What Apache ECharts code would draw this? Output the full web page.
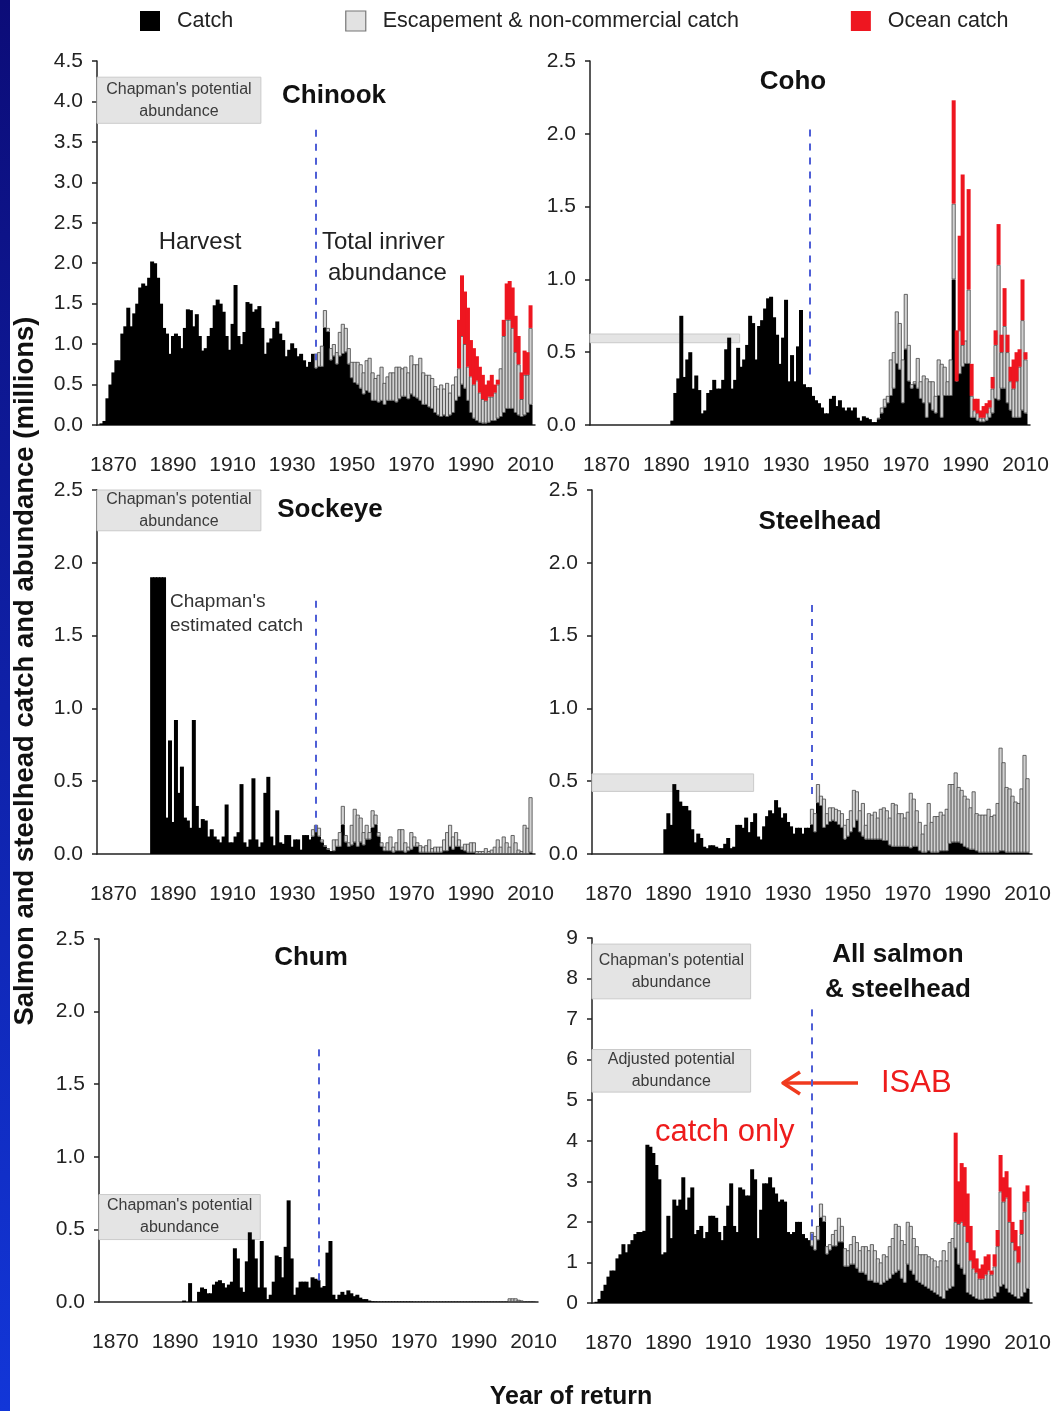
<!DOCTYPE html>
<html>
<head>
<meta charset="utf-8">
<title>Columbia River salmon and steelhead</title>
<script src="https://cdn.jsdelivr.net/npm/echarts@6/dist/echarts.min.js"></script>
<style>
  html, body { margin: 0; padding: 0; background: #fff; }
  #chart { width: 1057px; height: 1411px; }
</style>
</head>
<body>
<div id="chart"></div>
<script>
// x axis: one category per year of return
const firstYear = 1865, lastYear = 2011;
const years = [];
for (let y = firstYear; y <= lastYear; y++) years.push(String(y));
const tickYears = [1870, 1890, 1910, 1930, 1950, 1970, 1990, 2010];

// ---- Chinook (millions) ----
const chinookCatchStart = 1866;
const chinookCatch = [
  0.02, 0.05, 0.33, 0.5,
  0.65, 0.8, 0.8, 1.13, 1.22, 1.45, 1.22, 1.38, 1.5, 1.7,
  1.75, 1.72, 1.82, 2.02, 2.0, 1.82, 1.5, 1.2, 1.13, 0.88,
  1.1, 1.13, 1.1, 0.95, 1.2, 1.43, 1.42, 1.22, 1.37, 1.1,
  0.92, 0.95, 1.1, 1.2, 1.48, 1.55, 1.5, 1.4, 1.1, 0.93,
  1.25, 1.73, 1.1, 1.0, 1.15, 1.52, 1.5, 1.4, 1.43, 1.47,
  1.2, 0.88, 1.02, 1.07, 1.2, 1.28, 1.13, 1.05, 0.85, 0.93,
  1.01, 0.95, 0.85, 0.88, 0.8, 0.72, 0.78, 0.88, 0.7, 0.72,
  0.72, 1.2, 1.15, 0.8, 0.85, 0.75, 0.85, 0.88, 0.9, 0.75,
  0.58, 0.52, 0.5, 0.45, 0.38, 0.42, 0.4, 0.3, 0.3, 0.28,
  0.3, 0.25, 0.3, 0.3, 0.3, 0.28, 0.32, 0.35, 0.35, 0.32,
  0.38, 0.35, 0.33, 0.3, 0.25, 0.25, 0.22, 0.2, 0.15, 0.12,
  0.1, 0.12, 0.1, 0.12, 0.15, 0.3, 0.35, 0.5, 0.45, 0.3,
  0.15, 0.08, 0.05, 0.03, 0.02, 0.02, 0.03, 0.05, 0.05, 0.08,
  0.1, 0.15, 0.2, 0.2, 0.2, 0.15, 0.12, 0.1, 0.12, 0.15,
  0.25
];
// top of the escapement bar (catch + escapement)
const chinookTotalStart = 1938;
const chinookTotal = [
  0.88, 0.9,
  0.98, 1.42, 1.2, 0.95, 1.0, 0.9, 1.15, 1.25, 1.2, 0.95,
  0.78, 0.78, 0.78, 0.75, 0.65, 0.8, 0.83, 0.65, 0.58, 0.62,
  0.72, 0.52, 0.6, 0.65, 0.65, 0.72, 0.72, 0.7, 0.72, 0.65,
  0.86, 0.75, 0.75, 0.83, 0.65, 0.62, 0.62, 0.58, 0.48, 0.45,
  0.5, 0.45, 0.52, 0.4, 0.5, 0.6, 0.7, 1.1, 1.0, 0.72,
  0.6, 0.5, 0.55, 0.4, 0.32, 0.3, 0.35, 0.35, 0.4, 0.5,
  0.7, 1.1, 1.3, 1.3, 1.2, 0.9, 0.75, 0.32, 0.62, 0.62,
  1.2
];
// top of the ocean catch bar
const chinookOceanStart = 1986;
const chinookOcean = [
  1.3, 1.85, 1.65, 1.45,
  1.05, 0.95, 0.85, 0.72, 0.62, 0.5, 0.55, 0.62, 0.5, 0.56,
  0.62, 1.3, 1.75, 1.78, 1.7, 1.35, 1.1, 0.65, 0.92, 0.9,
  1.48
];

// ---- Coho ----
const cohoCatchStart = 1892;
const cohoCatch = [
  0.03, 0.22, 0.32, 0.75, 0.33, 0.45, 0.5, 0.25,
  0.34, 0.24, 0.08, 0.1, 0.22, 0.24, 0.31, 0.25, 0.25, 0.31,
  0.52, 0.6, 0.25, 0.31, 0.53, 0.4, 0.45, 0.55, 0.75, 0.7,
  0.45, 0.68, 0.72, 0.8, 0.87, 0.88, 0.74, 0.62, 0.42, 0.6,
  0.86, 0.3, 0.48, 0.3, 0.54, 0.79, 0.28, 0.26, 0.26, 0.2,
  0.17, 0.15, 0.12, 0.08, 0.08, 0.18, 0.2, 0.13, 0.17, 0.12,
  0.1, 0.12, 0.1, 0.12, 0.05, 0.03, 0.06, 0.05, 0.04, 0.02,
  0.02, 0.04, 0.08, 0.12, 0.15, 0.2, 0.25, 0.42, 0.38, 0.15,
  0.52, 0.3, 0.25, 0.28, 0.25, 0.18, 0.15, 0.05, 0.15, 0.1,
  0.08, 0.2, 0.05, 0.2, 0.2, 0.2, 1.0, 0.3, 0.35, 0.4,
  0.42, 0.42, 0.05, 0.05, 0.03, 0.02, 0.02, 0.03, 0.05, 0.08,
  0.18, 0.17, 0.25, 0.25, 0.15, 0.1, 0.05, 0.05, 0.05, 0.1,
  0.08
];
const cohoTotalStart = 1961;
const cohoTotal = [
  0.05, 0.12, 0.18, 0.2, 0.45, 0.5, 0.78, 0.7, 0.45,
  0.9, 0.55, 0.28, 0.3, 0.46, 0.3, 0.34, 0.32, 0.3, 0.3,
  0.2, 0.45, 0.42, 0.4, 0.3, 0.45, 1.52, 0.3, 0.65, 0.55,
  0.58, 0.93, 0.2, 0.1, 0.08, 0.05, 0.05, 0.08, 0.12, 0.25,
  0.55, 1.1, 0.5, 0.68, 0.5, 0.3, 0.25, 0.3, 0.4, 0.72,
  0.45
];
const cohoOceanStart = 1986;
const cohoOcean = [
  2.23, 0.65, 1.3, 1.72,
  0.58, 1.62, 0.42, 0.18, 0.18, 0.1, 0.13, 0.15, 0.17, 0.33,
  0.65, 1.38, 0.62, 0.94, 0.62, 0.4, 0.45, 0.5, 0.52, 1.0,
  0.5
];

// ---- Sockeye ----
const sockeyeCatchStart = 1883;
const sockeyeCatch = [
  1.9, 1.9, 1.9, 1.9, 1.9, 0.25, 0.78,
  0.22, 0.92, 0.42, 0.6, 0.25, 0.23, 0.18, 0.92, 0.33, 0.18,
  0.24, 0.23, 0.12, 0.17, 0.12, 0.1, 0.08, 0.12, 0.34, 0.08,
  0.08, 0.12, 0.15, 0.48, 0.08, 0.05, 0.1, 0.52, 0.1, 0.05,
  0.08, 0.42, 0.53, 0.12, 0.06, 0.3, 0.08, 0.07, 0.13, 0.13,
  0.05, 0.1, 0.1, 0.03, 0.13, 0.13, 0.1, 0.12, 0.15, 0.12,
  0.08, 0.05, 0.03, 0.02, 0.02, 0.05, 0.05, 0.2, 0.08, 0.05,
  0.06, 0.08, 0.05, 0.08, 0.06, 0.1, 0.1, 0.18, 0.2, 0.12,
  0.05, 0.02, 0.02, 0.02, 0.01, 0.02, 0.02, 0.02, 0.01, 0.02,
  0.03, 0.05, 0.05, 0.01, 0.01, 0.01, 0.01, 0.01, 0.01, 0.01,
  0.01, 0.02, 0.02, 0.05, 0.03, 0.05, 0.05, 0.03, 0.02, 0.01,
  0.01, 0.01, 0, 0, 0, 0, 0, 0, 0, 0,
  0, 0, 0, 0, 0, 0, 0, 0, 0, 0,
  0.01
];
const sockeyeTotalStart = 1937;
const sockeyeTotal = [
  0.17, 0.2, 0.18,
  0.1, 0.06, 0.04, 0.02, 0.1, 0.1, 0.15, 0.33, 0.13, 0.08,
  0.2, 0.31, 0.27, 0.25, 0.15, 0.2, 0.15, 0.3, 0.27, 0.15,
  0.08, 0.05, 0.08, 0.12, 0.05, 0.08, 0.17, 0.17, 0.08, 0.05,
  0.15, 0.12, 0.08, 0.06, 0.05, 0.06, 0.1, 0.04, 0.05, 0.05,
  0.05, 0.1, 0.15, 0.2, 0.12, 0.15, 0.1, 0.05, 0.07, 0.07,
  0.08, 0.08, 0.02, 0.02, 0.02, 0.04, 0.02, 0.03, 0.05, 0.1,
  0.05, 0.12, 0.08, 0.05, 0.13, 0.08, 0.03, 0.02, 0.2, 0.18,
  0.39
];

// ---- Steelhead ----
const steelheadCatchStart = 1889;
const steelheadCatch = [
  0.17,
  0.28, 0.2, 0.48, 0.44, 0.36, 0.33, 0.33, 0.3, 0.17, 0.08,
  0.14, 0.11, 0.05, 0.04, 0.06, 0.06, 0.05, 0.04, 0.04, 0.07,
  0.11, 0.04, 0.05, 0.2, 0.2, 0.18, 0.25, 0.15, 0.22, 0.28,
  0.12, 0.1, 0.19, 0.26, 0.3, 0.28, 0.37, 0.32, 0.25, 0.28,
  0.22, 0.19, 0.14, 0.18, 0.18, 0.14, 0.18, 0.18, 0.2, 0.15,
  0.35, 0.33, 0.18, 0.2, 0.22, 0.23, 0.22, 0.2, 0.18, 0.1,
  0.12, 0.15, 0.18, 0.23, 0.15, 0.12, 0.1, 0.1, 0.1, 0.1,
  0.1, 0.1, 0.09, 0.09, 0.06, 0.05, 0.05, 0.05, 0.05, 0.05,
  0.05, 0.04, 0.05, 0.05, 0.02, 0.01, 0.01, 0.02, 0.01, 0.01,
  0.01, 0.02, 0.02, 0.02, 0.07, 0.08, 0.08, 0.08, 0.07, 0.05,
  0.04, 0.03, 0.03, 0.02, 0.01, 0.01, 0.01, 0.01, 0.01, 0.01,
  0.01, 0.02, 0.02, 0.01, 0.01, 0.01, 0.01, 0.01, 0.01, 0.01,
  0.01
];
const steelheadTotalStart = 1938;
const steelheadTotal = [
  0.31, 0.28,
  0.48, 0.4, 0.38, 0.28, 0.32, 0.32, 0.31, 0.3, 0.28, 0.2,
  0.24, 0.3, 0.44, 0.43, 0.3, 0.35, 0.2, 0.28, 0.27, 0.29,
  0.25, 0.31, 0.32, 0.3, 0.25, 0.35, 0.34, 0.28, 0.28, 0.25,
  0.29, 0.42, 0.38, 0.3, 0.22, 0.14, 0.2, 0.35, 0.22, 0.26,
  0.26, 0.29, 0.27, 0.31, 0.48, 0.48, 0.56, 0.46, 0.44, 0.4,
  0.38, 0.32, 0.43, 0.28, 0.27, 0.27, 0.27, 0.31, 0.26, 0.27,
  0.35, 0.73, 0.63, 0.46, 0.45, 0.4, 0.36, 0.35, 0.45, 0.68,
  0.52
];

// ---- Chum ----
const chumCatchStart = 1893;
const chumCatch = [
  0.01, 0, 0.13, 0, 0, 0.07, 0.1,
  0.09, 0.06, 0.06, 0.12, 0.14, 0.15, 0.13, 0.1, 0.12, 0.14,
  0.37, 0.3, 0.1, 0.07, 0.28, 0.48, 0.43, 0.3, 0.1, 0.42,
  0.1, 0.02, 0.05, 0.14, 0.32, 0.31, 0.17, 0.38, 0.7, 0.3,
  0.05, 0.1, 0.14, 0.14, 0.14, 0.1, 0.17, 0.16, 0.15, 0.1,
  0.11, 0.34, 0.42, 0.05, 0.02, 0.05, 0.07, 0.05, 0.08, 0.06,
  0.04, 0.05, 0.03, 0.02, 0.02, 0.01, 0.005, 0.004, 0.003, 0.003,
  0.003, 0.003, 0.003, 0.003, 0.003, 0.003, 0.003, 0.003, 0.003, 0.003,
  0.002, 0.002, 0.002, 0.002, 0.002, 0.002, 0.002, 0.002, 0.002, 0.002,
  0.002, 0.002, 0.002, 0.002, 0.002, 0.002, 0.002, 0.002, 0.002, 0.002,
  0.002, 0.002, 0.002, 0.002, 0.002, 0.002, 0.002, 0.002, 0.002, 0.002,
  0.002, 0.002, 0.002, 0.002, 0.002, 0.002, 0.002, 0.002, 0.002, 0.002,
  0.002
];
const chumTotalStart = 2002;
const chumTotal = [0.025, 0.025, 0.025, 0.015, 0.01];

// ---- All salmon & steelhead ----
const allCatchStart = 1866;
const allCatch = [
  0.03, 0.1, 0.3, 0.45,
  0.65, 0.8, 0.8, 1.1, 1.2, 1.45, 1.25, 1.45, 1.55, 1.7,
  1.75, 1.75, 1.78, 3.9, 3.85, 3.7, 3.4, 3.05, 1.2, 1.25,
  2.15, 1.6, 2.55, 2.4, 2.55, 3.1, 2.3, 2.6, 2.85, 1.7,
  1.8, 1.9, 1.6, 1.75, 2.15, 2.15, 2.1, 1.75, 1.55, 1.9,
  2.4, 2.95, 1.9, 1.75, 2.85, 2.8, 2.65, 2.65, 3.3, 3.05,
  1.6, 2.3, 2.95, 2.95, 3.1, 2.85, 2.7, 2.5, 2.55, 2.5,
  1.75, 1.7, 1.75, 2.0, 2.0, 1.7, 1.6, 1.55, 1.4, 1.3,
  1.55, 2.1, 2.0, 1.2, 1.3, 1.4, 1.4, 1.5, 1.5, 0.9,
  0.9, 0.95, 0.95, 0.85, 0.75, 0.75, 0.7, 0.55, 0.55, 0.5,
  0.5, 0.45, 0.5, 0.55, 0.6, 0.7, 0.75, 0.8, 0.6, 0.5,
  0.95, 0.8, 0.7, 0.55, 0.5, 0.45, 0.4, 0.35, 0.3, 0.25,
  0.2, 0.15, 0.1, 0.3, 0.35, 0.4, 1.35, 0.95, 0.85, 0.7,
  0.25, 0.2, 0.15, 0.1, 0.08, 0.08, 0.1, 0.1, 0.1, 0.15,
  0.25, 0.4, 0.45, 0.35, 0.25, 0.2, 0.15, 0.1, 0.15, 0.25,
  0.35
];
const allTotalStart = 1938;
const allTotal = [
  1.75, 1.65,
  1.9, 2.45, 2.15, 1.4, 1.45, 1.7, 1.8, 2.1, 1.9, 1.35,
  1.3, 1.45, 1.65, 1.5, 1.3, 1.4, 1.4, 1.3, 1.45, 1.3,
  1.1, 1.0, 1.2, 1.15, 1.4, 1.6, 1.95, 1.9, 1.55, 1.45,
  2.0, 1.9, 1.6, 1.4, 1.2, 1.2, 1.2, 1.15, 1.1, 1.05,
  0.9, 1.05, 1.3, 1.05, 1.5, 1.6, 2.0, 1.95, 2.0, 1.9,
  1.5, 1.05, 0.85, 0.75, 0.6, 0.6, 0.7, 0.8, 0.7, 0.9,
  1.4, 2.75, 2.5, 2.6, 2.0, 1.5, 1.3, 1.0, 1.7, 2.25,
  2.5
];
const allOceanStart = 1986;
const allOcean = [
  4.2, 3.0, 3.45, 3.35,
  2.7, 1.9, 1.3, 1.1, 0.85, 0.95, 1.15, 1.2, 0.8, 1.2,
  1.8, 3.65, 3.1, 3.25, 2.85, 2.0, 1.8, 1.4, 2.05, 2.75,
  2.9
];

const FONT = '"Liberation Sans", Arial, Helvetica, sans-serif';
const INK = '#222';

// layout of the six panels
const panels = [
  { grid: { left: 97, top: 61, width: 438, height: 364 }, max: 4.5, step: 0.5, digits: 1,
    c: [chinookCatchStart, chinookCatch], t: [chinookTotalStart, chinookTotal], o: [chinookOceanStart, chinookOcean],
    dash: [3.65, 0.8],
    boxes: [{ name: "Chapman's potential\nabundance", from: '1865', to: '1919', lo: 3.73, hi: 4.3 }] },
  { grid: { left: 590, top: 61, width: 440, height: 364 }, max: 2.5, step: 0.5, digits: 1,
    c: [cohoCatchStart, cohoCatch], t: [cohoTotalStart, cohoTotal], o: [cohoOceanStart, cohoOcean],
    dash: [2.03, 0.3],
    boxes: [{ name: '', from: '1865', to: '1914', lo: 0.565, hi: 0.625 }] },
  { grid: { left: 97, top: 490, width: 438, height: 364 }, max: 2.5, step: 0.5, digits: 1,
    c: [sockeyeCatchStart, sockeyeCatch], t: [sockeyeTotalStart, sockeyeTotal], o: null,
    dash: [1.74, 0.13],
    boxes: [{ name: "Chapman's potential\nabundance", from: '1865', to: '1919', lo: 2.22, hi: 2.5 }] },
  { grid: { left: 592, top: 490, width: 440, height: 364 }, max: 2.5, step: 0.5, digits: 1,
    c: [steelheadCatchStart, steelheadCatch], t: [steelheadTotalStart, steelheadTotal], o: null,
    dash: [1.71, 0.37],
    boxes: [{ name: '', from: '1865', to: '1918', lo: 0.43, hi: 0.55 }] },
  { grid: { left: 99, top: 939, width: 439, height: 363 }, max: 2.5, step: 0.5, digits: 1,
    c: [chumCatchStart, chumCatch], t: [chumTotalStart, chumTotal], o: null,
    dash: [1.74, 0.15],
    boxes: [{ name: "Chapman's potential\nabundance", from: '1865', to: '1918', lo: 0.43, hi: 0.74 }] },
  { grid: { left: 592, top: 938, width: 440, height: 365 }, max: 9, step: 1, digits: 0,
    c: [allCatchStart, allCatch], t: [allTotalStart, allTotal], o: [allOceanStart, allOcean],
    dash: [7.24, 1.55],
    boxes: [
      { name: "Chapman's potential\nabundance", from: '1865', to: '1917', lo: 7.5, hi: 8.85 },
      { name: 'Adjusted potential\nabundance', from: '1865', to: '1917', lo: 5.2, hi: 6.25 }
    ] }
];

function pad(spec) {
  if (!spec) return years.map(() => null);
  const [start, arr] = spec;
  return years.map(y => {
    const i = +y - start;
    return i >= 0 && i < arr.length ? arr[i] : null;
  });
}
function seg(top, base) {
  return top.map((v, i) => {
    if (v == null) return null;
    const d = +(v - (base[i] || 0)).toFixed(3);
    return d > 0 ? d : null;
  });
}

const grids = [], xAxes = [], yAxes = [], series = [];
const isTick = (idx, val) => tickYears.indexOf(+val) >= 0;

panels.forEach((p, i) => {
  grids.push(Object.assign({ containLabel: false }, p.grid));
  xAxes.push({
    type: 'category', gridIndex: i, data: years, boundaryGap: true,
    axisLine: { lineStyle: { color: INK, width: 1.5 } },
    axisTick: { alignWithLabel: true, interval: isTick, length: 8, lineStyle: { color: INK, width: 1.5 } },
    axisLabel: { interval: isTick, fontSize: 21, color: INK, margin: 30, fontFamily: FONT },
    splitLine: { show: false }
  });
  yAxes.push({
    type: 'value', gridIndex: i, min: 0, max: p.max, interval: p.step,
    axisLine: { show: true, lineStyle: { color: INK, width: 1.5 } },
    axisTick: { show: true, length: 5, lineStyle: { color: INK, width: 1.5 } },
    axisLabel: { fontSize: 21, color: INK, margin: 14, fontFamily: FONT, formatter: v => v.toFixed(p.digits) },
    splitLine: { show: false }
  });

  const catchVals = pad(p.c);
  const totalTop = pad(p.t);
  const oceanTop = pad(p.o);
  const escVals = seg(totalTop, catchVals);
  const base = totalTop.map((v, k) => v != null ? v : catchVals[k]);
  const oceanVals = seg(oceanTop, base);

  // bars a touch wider than a year so neighbouring years join without seams
  const common = { type: 'bar', xAxisIndex: i, yAxisIndex: i, stack: 'p' + i, barWidth: 4, silent: true, animation: false };
  series.push(Object.assign({}, common, {
    name: 'Catch', data: catchVals,
    itemStyle: { color: '#000', borderWidth: 0 },
    markLine: {
      silent: true, symbol: ['none', 'none'], label: { show: false },
      lineStyle: { color: '#4f5fd6', width: 2, type: [7, 7] },
      data: [[{ coord: ['1938', p.dash[0]] }, { coord: ['1938', p.dash[1]] }]]
    }
  }));
  series.push(Object.assign({}, common, {
    name: 'Escapement & non-commercial catch', data: escVals,
    itemStyle: { color: '#d2d2d2', borderColor: '#444', borderWidth: 0.8 }
  }));
  series.push(Object.assign({}, common, {
    name: 'Ocean catch', data: oceanVals,
    itemStyle: { color: '#ee1620', borderWidth: 0 }
  }));
});

function label(text, x, y, opts) {
  return {
    type: 'text', x: x, y: y, silent: true,
    rotation: (opts && opts.rotation) || 0,
    style: Object.assign({
      text: text, fill: INK, fontFamily: FONT, fontSize: 24,
      align: 'center', verticalAlign: 'middle'
    }, opts && opts.style)
  };
}
const bold = { fontWeight: 'bold', fontSize: 26, fill: '#111' };

const graphics = [
  { type: 'rect', shape: { x: 0, y: 0, width: 10, height: 1411 }, silent: true,
    style: { fill: new echarts.graphic.LinearGradient(0, 0, 0, 1, [
      { offset: 0, color: '#0c0c78' }, { offset: 1, color: '#1236d8' }]) } },
  label('Chinook', 334, 96, { style: bold }),
  label('Coho', 793, 82, { style: bold }),
  label('Sockeye', 330, 510, { style: bold }),
  label('Steelhead', 820, 522, { style: bold }),
  label('Chum', 311, 958, { style: bold }),
  label('All salmon', 898, 955, { style: bold }),
  label('& steelhead', 898, 990, { style: bold }),
  label('Harvest', 200, 242),
  label('Total inriver', 322, 242, { style: { align: 'left' } }),
  label('abundance', 328, 273, { style: { align: 'left' } }),
  label("Chapman's", 170, 602, { style: { align: 'left', fontSize: 19, fill: '#333' } }),
  label('estimated catch', 170, 626, { style: { align: 'left', fontSize: 19, fill: '#333' } }),
  label('ISAB', 881, 1083, { style: { align: 'left', fontSize: 31, fill: '#ee1c1c' } }),
  label('catch only', 655, 1132, { style: { align: 'left', fontSize: 31, fill: '#ee1c1c' } }),
  { type: 'polyline', silent: true, shape: { points: [[858, 1083], [784, 1083]] },
    style: { stroke: '#f03a1e', lineWidth: 3.5, fill: null } },
  { type: 'polyline', silent: true, shape: { points: [[800, 1072], [783, 1083], [800, 1094]] },
    style: { stroke: '#f03a1e', lineWidth: 3.5, fill: null, lineJoin: 'round' } },
  label('Salmon and steelhead catch and abundance (millions)', 25, 671,
    { rotation: Math.PI / 2, style: { fontWeight: 'bold', fontSize: 27.5, fill: '#111' } }),
  label('Year of return', 571, 1397, { style: { fontWeight: 'bold', fontSize: 25, fill: '#111' } })
];

const chart = echarts.init(document.getElementById('chart'), null, { renderer: 'canvas' });
chart.setOption({
  backgroundColor: '#fff',
  animation: false,
  legend: {
    left: 135, top: 5, itemWidth: 20, itemHeight: 20, itemGap: 112, selectedMode: false,
    icon: 'rect',
    textStyle: { fontSize: 21.5, color: INK, fontFamily: FONT, padding: [0, 0, 0, 12] },
    data: [
      { name: 'Catch', itemStyle: { color: '#000', borderWidth: 0 } },
      { name: 'Escapement & non-commercial catch', itemStyle: { color: '#e2e2e2', borderColor: '#777', borderWidth: 1.2 } },
      { name: 'Ocean catch', itemStyle: { color: '#ee1620', borderWidth: 0 } }
    ]
  },
  grid: grids,
  xAxis: xAxes,
  yAxis: yAxes,
  series: series
});

// grey "potential abundance" boxes, placed through each panel's axes
panels.forEach((p, i) => {
  const band = p.grid.width / years.length;
  p.boxes.forEach(b => {
    const a = chart.convertToPixel({ xAxisIndex: i, yAxisIndex: i }, [years.indexOf(b.from), b.hi]);
    const z = chart.convertToPixel({ xAxisIndex: i, yAxisIndex: i }, [years.indexOf(b.to), b.lo]);
    const x0 = a[0] - band / 2, x1 = z[0] + band / 2;
    graphics.push({
      type: 'rect', silent: true, z: 1,
      shape: { x: x0, y: a[1], width: x1 - x0, height: z[1] - a[1] },
      style: { fill: '#e4e4e4', stroke: '#cacaca', lineWidth: 1 }
    });
    if (b.name) {
      graphics.push({
        type: 'text', silent: true, z: 1, x: (x0 + x1) / 2, y: (a[1] + z[1]) / 2,
        style: { text: b.name, fill: '#3a3a3a', fontFamily: FONT, fontSize: 16, lineHeight: 22,
          align: 'center', verticalAlign: 'middle' }
      });
    }
  });
});
chart.setOption({ graphic: graphics });
</script>
</body>
</html>
